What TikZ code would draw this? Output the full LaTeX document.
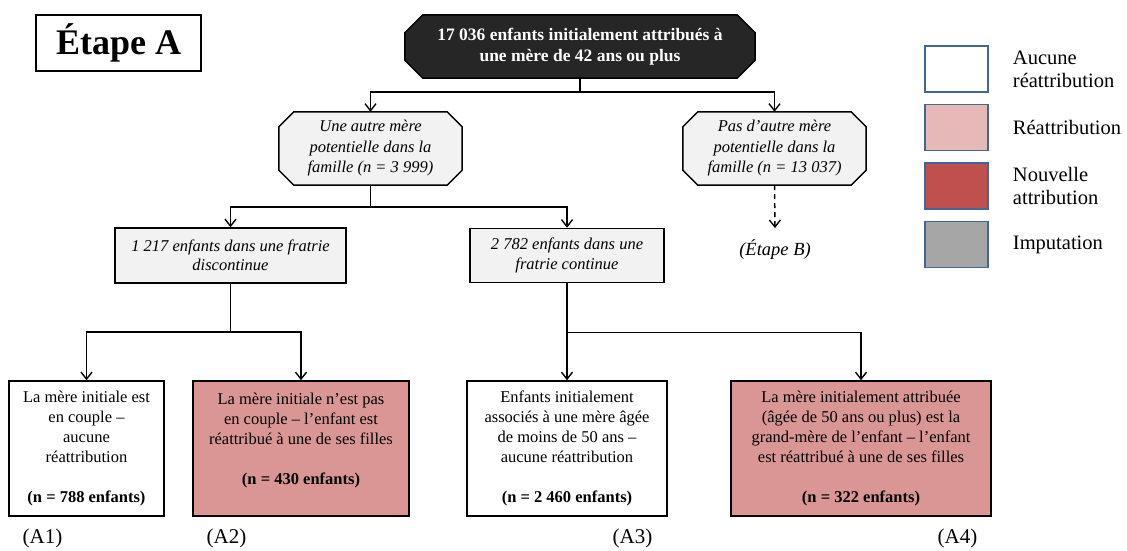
\documentclass[tikz,border=0pt]{standalone}
\usepackage{fontspec}
\setmainfont{Liberation Serif}
\usepackage{tikz}
\usetikzlibrary{
    positioning,
    arrows.meta,
    calc,
    backgrounds,
}
\definecolor{fondNoir}{HTML}{262626}
\definecolor{grisClair}{HTML}{F2F2F2}
\definecolor{roseCas}{HTML}{D99694}
\definecolor{rosePale}{HTML}{E6B9B8}
\definecolor{rougeFonce}{HTML}{C0504D}
\definecolor{grisMoyen}{HTML}{A6A6A6}
\definecolor{bordLegende}{HTML}{41669A}

\begin{document}
\begin{tikzpicture}[x=1pt,y=-1pt,
        police/.style={font=\fontsize{16.5}{20}\selectfont},
        cadre/.style={police, draw, line width=1.5pt, align=center, inner sep=0pt},
        octo/.style={police, align=center, inner sep=0pt},
        lien/.style={line width=1.5pt,
                     -{Straight Barb[length=7pt,width=11pt,line width=1.4pt]}},
        legende/.style={draw=bordLegende, line width=1.5pt, minimum width=63pt,
                        minimum height=46pt, inner sep=0pt},
        etiquette/.style={font=\fontsize{20.5}{23}\selectfont, align=left, inner sep=0pt},
        numero/.style={font=\fontsize{21}{23}\selectfont, inner sep=0pt},
    ]
    \useasboundingbox (0,0) rectangle (1127,550);
    \pgfmathsetmacro\YDepart{46.5}
    \pgfmathsetmacro\YMere{148.5}
    \pgfmathsetmacro\YFratrie{255.5}
    \pgfmathsetmacro\YCas{448.5}
    \pgfmathsetmacro\YNumero{538}
    \pgfmathsetmacro\HautCas{135}
    %
    %
        % Titre
    \node[cadre, font=\bfseries\fontsize{36}{38}\selectfont,
          minimum width=165pt, minimum height=56pt]
        (etapeA) at (118.5,43) {Étape A};
    %
        % Case de départ
    \node[octo, text=white, font=\bfseries\fontsize{17.5}{21}\selectfont,
          minimum width=350pt, minimum height=63pt]
        (depart) at (580,\YDepart)
        {17 036 enfants initialement attribués à\\une mère de 42 ans ou plus};
    %
        % Autre mère ou non
    \node[octo, font=\itshape\fontsize{16.5}{20.5}\selectfont,
          minimum width=183pt, minimum height=73pt]
        (autreMere) at (370.5,\YMere)
        {Une autre mère\\potentielle dans la\\famille (n = 3 999)};
    \node[octo, font=\itshape\fontsize{16.5}{20.5}\selectfont,
          minimum width=183pt, minimum height=73pt]
        (pasAutreMere) at (774.5,\YMere)
        {Pas d’autre mère\\potentielle dans la\\famille (n = 13 037)};
    \node[font=\itshape\fontsize{18.5}{20}\selectfont, inner sep=3pt, outer ysep=9pt]
        (etapeB) at (775,250) {(Étape B)};
    %
        % Fratries
    \node[cadre, fill=grisClair, font=\itshape\fontsize{16.5}{19.5}\selectfont,
          minimum width=231pt, minimum height=55pt]
        (fratrieDisc) at (230.5,\YFratrie)
        {1 217 enfants dans une fratrie\\discontinue};
    \node[cadre, fill=grisClair, font=\itshape\fontsize{16.5}{19.5}\selectfont,
          minimum width=194pt, minimum height=54pt]
        (fratrieCont) at (567,\YFratrie)
        {2 782 enfants dans une\\fratrie continue};
    %
        % Cas finaux
    \node[cadre, minimum width=155pt, minimum height=\HautCas pt]
        (casA1) at (86.5,\YCas)
        {La mère initiale est\\en couple –\\aucune\\réattribution\\[20pt]
         \textbf{(n = 788 enfants)}};
    \node[cadre, fill=roseCas, minimum width=216pt, minimum height=\HautCas pt]
        (casA2) at (301,\YCas)
        {La mère initiale n’est pas\\en couple – l’enfant est\\réattribué à une de ses filles\\[20pt]
         \textbf{(n = 430 enfants)}\\\mbox{}};
    \node[cadre, minimum width=200pt, minimum height=\HautCas pt]
        (casA3) at (567,\YCas)
        {Enfants initialement\\associés à une mère âgée\\de moins de 50 ans –\\aucune réattribution\\[20pt]
         \textbf{(n = 2 460 enfants)}};
    \node[cadre, fill=roseCas, minimum width=260pt, minimum height=\HautCas pt]
        (casA4) at (861,\YCas)
        {La mère initialement attribuée\\(âgée de 50 ans ou plus) est la\\grand-mère de l’enfant – l’enfant\\est réattribué à une de ses filles\\[20pt]
         \textbf{(n = 322 enfants)}};
    %
    \node[numero] (numA1) at (42.5,\YNumero) {(A1)};
    \node[numero] (numA2) at (226.5,\YNumero) {(A2)};
    \node[numero] (numA3) at (632.5,\YNumero) {(A3)};
    \node[numero] (numA4) at (957.5,\YNumero) {(A4)};
    %
        % Légende
    \node[legende, fill=white] (legAucune) at (956.5,69) {};
    \node[legende, fill=rosePale, below=11pt of legAucune] (legReattr) {};
    \node[legende, fill=rougeFonce, below=11pt of legReattr] (legNouvelle) {};
    \node[legende, fill=grisMoyen, below=11pt of legNouvelle] (legImput) {};
    \node[etiquette, right=24pt of legAucune] (txtAucune) {Aucune\\réattribution};
    \node[etiquette, right=24pt of legReattr] (txtReattr) {Réattribution};
    \node[etiquette, right=24pt of legNouvelle] (txtNouvelle) {Nouvelle\\attribution};
    \node[etiquette, right=24pt of legImput] (txtImput) {Imputation};
    %
        % Cases à pans coupés
    \begin{scope}[on background layer]
        \foreach \nom/\fond/\pan in {depart/fondNoir/18,
                                     autreMere/grisClair/15,
                                     pasAutreMere/grisClair/15}{
            \draw[line width=1.5pt, fill=\fond]
                ($(\nom.north west)+(\pan,0)$) -- ($(\nom.north east)+(-\pan,0)$)
                -- ($(\nom.north east)+(0,\pan)$) -- ($(\nom.south east)+(0,-\pan)$)
                -- ($(\nom.south east)+(-\pan,0)$) -- ($(\nom.south west)+(\pan,0)$)
                -- ($(\nom.south west)+(0,-\pan)$) -- ($(\nom.north west)+(0,\pan)$)
                -- cycle;
        }
    \end{scope}
    %
        % Liens
    \draw[lien] (depart.south) -- ++(0,14) -| (autreMere.north);
    \draw[lien] (depart.south) -- ++(0,14) -| (pasAutreMere.north);
    \draw[lien, dash pattern=on 5pt off 4pt] (pasAutreMere.south) -- (etapeB.north);
    \draw[lien] (autreMere.south) -- ++(0,22) -| (fratrieDisc.north);
    \draw[lien] (autreMere.south) -- ++(0,22) -| (fratrieCont.north);
    \draw[lien] (fratrieDisc.south) -- ++(0,48) -| (casA1.north);
    \draw[lien] (fratrieDisc.south) -- ++(0,48) -| (casA2.north);
    \draw[lien] (fratrieCont.south) -- (casA3.north);
    \draw[lien] (fratrieCont.south) -- ++(0,49) -| (casA4.north);
\end{tikzpicture}
\end{document}
